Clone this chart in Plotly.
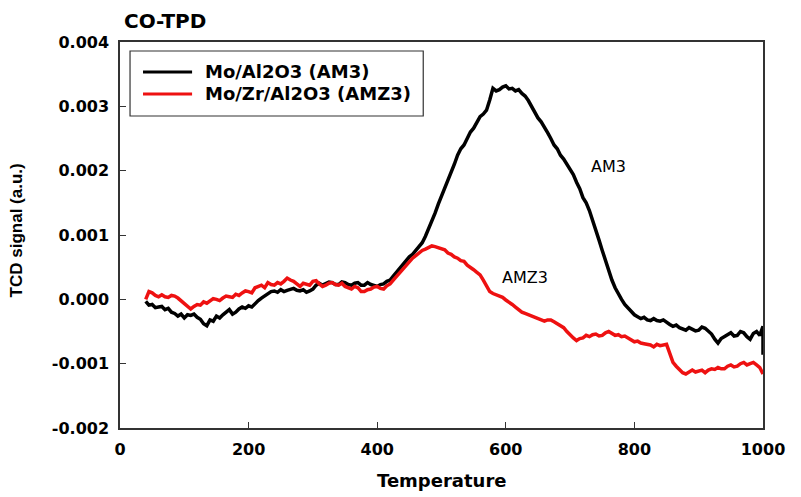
import plotly.graph_objects as go

# Temperature grid (step 5 from 40 to 1000)
temp = list(range(40, 1001, 5))

# AM3 (black) signal, units of 1e-4 a.u.
am3 = [
    -0.3, -0.9, -0.8, -1.3, -1.2, -1.1, -1.6, -1.4, -2.0, -2.2,
    -2.6, -2.3, -2.9, -2.4, -2.5, -2.3, -2.8, -3.1, -3.8, -4.1,
    -3.2, -3.4, -2.6, -2.9, -2.4, -2.0, -1.6, -2.3, -2.0, -1.5,
    -1.2, -1.4, -1.0, -1.2, -0.6, -0.2, 0.2, 0.5, 0.8, 1.2,
    1.3, 1.1, 1.5, 1.2, 1.4, 1.6, 1.7, 1.4, 1.3, 1.5,
    1.1, 1.3, 1.6, 2.2, 2.5, 2.2, 2.4, 2.7, 2.6, 2.3,
    2.3, 2.7, 2.6, 2.3, 2.2, 2.5, 2.6, 2.2, 2.2, 2.6,
    2.3, 2.1, 2.0, 2.3, 2.4, 2.8, 3.0, 3.6, 4.2, 5.0,
    5.6, 6.0, 6.6, 7.0, 7.6, 8.0, 8.8, 9.8, 11.0, 12.0,
    13.4, 14.8, 16.0, 17.4, 18.6, 19.6, 21.0, 22.4, 23.4, 24.0,
    25.0, 26.0, 26.6, 27.4, 28.4, 28.8, 29.4, 31.0, 32.8, 32.4,
    32.6, 33.0, 33.2, 32.7, 32.8, 32.4, 32.6, 32.0, 31.6, 30.9,
    30.0, 29.2, 28.2, 27.6, 26.6, 25.9, 25.0, 24.0, 23.4, 22.4,
    21.8, 21.0, 20.4, 19.4, 18.2, 17.2, 15.8, 15.0, 13.8, 12.4,
    10.8, 9.2, 7.6, 6.0, 4.4, 3.0, 1.8, 0.8, 0.0, -0.8,
    -1.4, -2.0, -2.4, -2.7, -3.0, -2.8, -3.2, -3.3, -3.0, -3.3,
    -3.4, -3.2, -3.6, -3.9, -4.2, -4.0, -4.4, -4.6, -4.8, -4.4,
    -4.6, -4.9, -4.8, -4.3, -4.5, -4.9, -5.4, -6.2, -6.8, -6.1,
    -5.8, -5.4, -5.2, -5.7, -5.6, -5.0, -5.2, -5.8, -6.2, -5.3,
    -5.0, -5.6, -4.2,
]
# final vertical drop at T = 1000
am3_end_temp = [1000]
am3_end_val = [-8.6]

# AMZ3 (red) signal, units of 1e-4 a.u.
amz3 = [
    0.0, 1.2, 1.0, 0.6, 0.4, 0.7, 0.4, 0.3, 0.6, 0.5,
    0.2, -0.2, -0.6, -1.0, -1.5, -1.1, -0.8, -0.9, -0.4, -0.6,
    -0.2, 0.1, 0.0, -0.2, 0.2, 0.5, 0.4, 0.3, 0.8, 0.6,
    1.0, 1.3, 1.2, 1.0, 1.8, 2.0, 2.2, 1.8, 2.6, 2.3,
    2.2, 2.6, 2.4, 2.8, 3.3, 3.0, 2.8, 2.4, 2.0, 2.5,
    2.4, 2.2, 2.8, 2.9, 2.4, 2.0, 2.2, 2.5, 2.6, 2.3,
    2.2, 2.5, 2.0, 1.8, 1.6, 2.0, 1.8, 1.2, 1.2, 1.5,
    1.6, 1.9, 2.0, 1.7, 1.6, 2.1, 2.4, 3.0, 3.6, 4.1,
    4.6, 5.2, 6.0, 6.4, 6.8, 7.2, 7.6, 7.8, 8.0, 8.3,
    8.2, 8.0, 7.8, 7.7, 7.2, 7.0, 6.6, 6.4, 6.0, 5.9,
    5.3, 5.0, 4.6, 4.2, 3.8, 3.0, 2.0, 1.2, 0.9, 0.7,
    0.5, 0.3, -0.1, -0.4, -0.8, -1.2, -1.6, -2.0, -2.2, -2.4,
    -2.6, -2.7, -3.0, -3.1, -3.4, -3.2, -3.2, -3.5, -3.8, -4.0,
    -4.4, -5.0, -5.6, -6.0, -6.4, -6.1, -6.0, -5.6, -5.8, -5.5,
    -5.4, -5.7, -5.6, -5.2, -5.0, -5.3, -5.6, -5.5, -5.8, -5.7,
    -6.0, -6.3, -6.6, -6.5, -6.8, -6.9, -7.0, -7.1, -7.4, -7.0,
    -7.2, -7.1, -7.0, -8.4, -9.8, -10.4, -11.0, -11.4, -11.6, -11.3,
    -11.0, -11.3, -11.2, -11.0, -11.4, -11.0, -10.8, -10.9, -10.6, -10.8,
    -10.8, -10.4, -10.2, -10.5, -10.4, -10.0, -9.8, -10.2, -10.0, -9.8,
    -10.2, -10.6, -11.6,
]

series_names = ["Mo/Al2O3 (AM3)", "Mo/Zr/Al2O3 (AMZ3)"]
series_colors = ["black", "#ee1111"]

x_ticks = [0, 200, 400, 600, 800, 1000]
y_ticks = [-0.002, -0.001, 0.0, 0.001, 0.002, 0.003, 0.004]
y_tick_labels = ["-0.002", "-0.001", "0.000", "0.001", "0.002", "0.003", "0.004"]

scale = 1e-4
am3_x = temp + am3_end_temp
am3_y = [v * scale for v in am3 + am3_end_val]
amz3_y = [v * scale for v in amz3]

BOLD = "DejaVu Sans"

fig = go.Figure()
fig.add_trace(go.Scatter(x=am3_x, y=am3_y, mode="lines", name=series_names[0],
                         line=dict(color=series_colors[0], width=3.5)))
fig.add_trace(go.Scatter(x=temp, y=amz3_y, mode="lines", name=series_names[1],
                         line=dict(color=series_colors[1], width=3.5)))

axis_common = dict(showgrid=False, zeroline=False, showline=True, mirror=True,
                   linecolor="#333333", linewidth=1.5, ticks="inside", ticklen=6,
                   tickcolor="#333333", tickwidth=1.2,
                   tickfont=dict(family=BOLD, size=16, color="black", weight="bold"))

fig.update_xaxes(range=[0, 1000], tickvals=x_ticks, ticklabelstandoff=6, **axis_common)
fig.update_yaxes(range=[-0.002, 0.004], tickvals=y_ticks, ticktext=y_tick_labels,
                 ticklabelstandoff=6, **axis_common)

# custom legend box (paper coordinates of the plot area)
legend_box = dict(x0=0.0156, x1=0.4716, y0=0.8083, y1=0.9767)
legend_rows_y = [0.9223, 0.8653]
shapes = [dict(type="rect", xref="paper", yref="paper", **legend_box,
               line=dict(color="#333333", width=1.2), fillcolor="white", layer="above")]
annotations = []
for name, color, ry in zip(series_names, series_colors, legend_rows_y):
    shapes.append(dict(type="line", xref="paper", yref="paper", x0=0.0358, x1=0.1121,
                       y0=ry, y1=ry, line=dict(color=color, width=3), layer="above"))
    annotations.append(dict(text=name, xref="paper", yref="paper", x=0.1292, y=ry,
                            xanchor="left", yanchor="middle", showarrow=False,
                            font=dict(family=BOLD, size=18, color="black", weight="bold")))

annotations += [
    dict(text="CO-TPD", xref="paper", yref="paper", x=0.003, y=1.055,
         xanchor="left", yanchor="middle", showarrow=False,
         font=dict(family=BOLD, size=20, color="black", weight="bold")),
    dict(text="TCD signal (a.u.)", xref="paper", yref="paper", x=-0.1595, y=0.513,
         xanchor="center", yanchor="middle", showarrow=False, textangle=-90,
         font=dict(family="Liberation Sans", size=17, color="black", weight="bold")),
    dict(text="Temperature", xref="paper", yref="paper", x=0.5, y=-0.137,
         xanchor="center", yanchor="middle", showarrow=False,
         font=dict(family=BOLD, size=18, color="black", weight="bold")),
    dict(text="AM3", xref="x", yref="y", x=760, y=0.00206,
         xanchor="center", yanchor="middle", showarrow=False,
         font=dict(family="DejaVu Sans", size=16, color="black")),
    dict(text="AMZ3", xref="x", yref="y", x=630, y=0.00034,
         xanchor="center", yanchor="middle", showarrow=False,
         font=dict(family="DejaVu Sans", size=16, color="black")),
]

fig.update_layout(
    width=793, height=489,
    margin=dict(l=112, r=38, t=34, b=69),
    plot_bgcolor="white", paper_bgcolor="white",
    showlegend=False,
    shapes=shapes,
    annotations=annotations,
)

fig.write_html("out.html")
